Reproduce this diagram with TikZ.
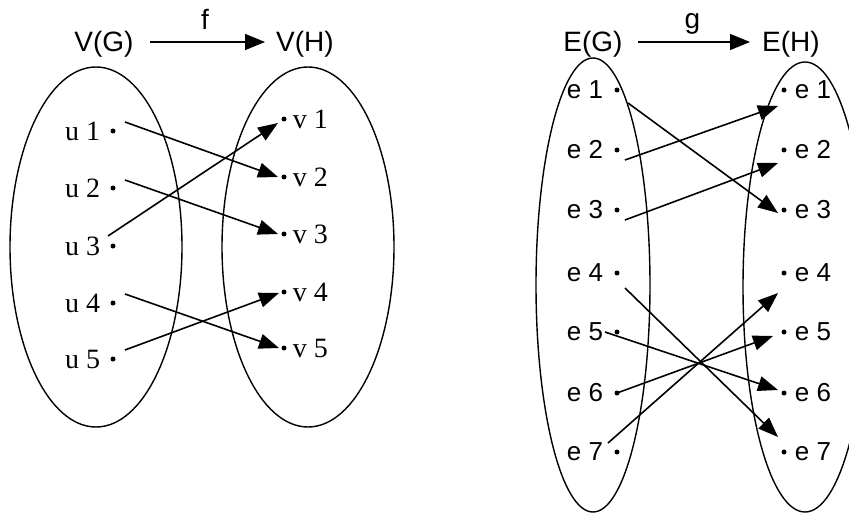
\documentclass[tikz,border=0pt]{standalone}
\usepackage{fontspec}
\setmainfont{Liberation Serif}
\setsansfont{Liberation Sans}
\usetikzlibrary{arrows.meta}

\begin{document}
\begin{tikzpicture}[x=1pt,y=-1pt,
  pt/.style={circle,fill,inner sep=0pt,minimum size=5pt},
  serif/.style={font=\fontsize{28}{30}\selectfont,inner sep=0pt},
  sans/.style={font=\sffamily\fontsize{26}{28}\selectfont,inner sep=0pt},
  head/.style={font=\sffamily\fontsize{28}{30}\selectfont,inner sep=0pt,text height=20pt,text depth=0pt},
  set/.style={line width=1.4pt},
  maparrow/.style={line width=1.6pt,-{Triangle[length=20pt,width=15pt]}},
  headarrow/.style={line width=1.5pt,-{Triangle[length=20pt,width=16pt]}}]
\useasboundingbox (0,0) rectangle (849,516);

% the two sets of vertices
\draw[set] (96,247) ellipse (86 and 180);
\draw[set] (308,247) ellipse (86 and 180);
\node[head] (vg) at (104,42) {V(G)};
\node[head] (vh) at (305,42) {V(H)};
\draw[headarrow,shorten <=16pt,shorten >=11pt] (vg) -- node[font=\sffamily\fontsize{28}{30}\selectfont,inner sep=0pt,above=12pt] {f} (vh);

\foreach \i/\y in {1/131,2/188,3/246,4/303,5/359}
  \node[pt,label={[serif,xshift=-10pt]left:u \i}] (u\i) at (113,\y) {};
\foreach \i/\y in {1/119,2/177,3/234,4/292,5/348}
  \node[pt,label={[serif,xshift=6pt]right:v \i}] (v\i) at (284,\y) {};

\foreach \a/\b/\sx/\sy/\ex/\ey in {1/2/12/-9/-6/0, 2/3/12/-8/-6/0, 3/1/-5/-10/-6/4,
                                    4/5/12/-9/-5/0, 5/4/12/-9/-5/1}
  \draw[maparrow] ([shift={(\sx,\sy)}]u\a.center) -- ([shift={(\ex,\ey)}]v\b.center);

% the two sets of edges
\draw[set] (593,285) ellipse (57 and 227);
\draw[set] (805,287) ellipse (62 and 225);
\node[head] (eg) at (593,42) {E(G)};
\node[head] (eh) at (791,42) {E(H)};
\draw[headarrow,shorten <=15pt,shorten >=12pt] (eg) -- node[font=\sffamily\fontsize{28}{30}\selectfont,inner sep=0pt,above=7pt] {g} (eh);

\foreach \i/\y in {1/90,2/150,3/210,4/273,5/332,6/393,7/452} {
  \node[pt,label={[sans,xshift=-11pt]left:e \i}] (g\i) at (617,\y) {};
  \node[pt,label={[sans,xshift=8pt]right:e \i}] (h\i) at (784,\y) {};
}

\foreach \a/\b/\sx/\sy/\ex/\ey in {1/3/11/13/-6/3, 2/1/8/10/-6/16, 3/2/8/10/-6/13,
                                    4/7/8/15/-6/-15, 5/6/-12/0/-6/-3, 6/5/0/0/-11/4,
                                    7/4/-9/-9/-6/20}
  \draw[maparrow] ([shift={(\sx,\sy)}]g\a.center) -- ([shift={(\ex,\ey)}]h\b.center);
\end{tikzpicture}
\end{document}
